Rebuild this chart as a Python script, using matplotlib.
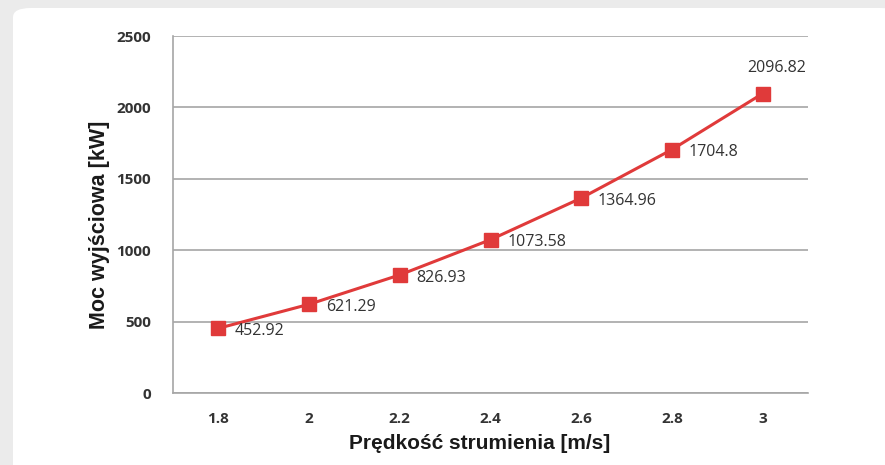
import matplotlib
matplotlib.use("Agg")
import matplotlib.pyplot as plt
from matplotlib.patches import FancyBboxPatch

categories = ["1.8", "2", "2.2", "2.4", "2.6", "2.8", "3"]
values = [452.92, 621.29, 826.93, 1073.58, 1364.96, 1704.8, 2096.82]
labels = ["452.92", "621.29", "826.93", "1073.58", "1364.96", "1704.8", "2096.82"]
yticks = [0, 500, 1000, 1500, 2000, 2500]

label_font = ['Liberation Sans', 'DejaVu Sans']
plt.rcParams['font.family'] = ['Open Sans', 'DejaVu Sans']

fig = plt.figure(figsize=(8.85, 4.65), dpi=100)
fig.patch.set_facecolor('#ebebeb')
W, H = 885, 465
panel = FancyBboxPatch((13 / W, -0.1), 1.0, 1.1 - 8 / H,
                       boxstyle="round,pad=0,rounding_size=0.02",
                       transform=fig.transFigure, facecolor='white',
                       edgecolor='none', zorder=-10)
fig.patches.append(panel)

ax = fig.add_axes([173 / W, 1 - 393 / H, (808 - 173) / W, (393 - 36) / H])
ax.set_facecolor('none')
x = list(range(len(categories)))
color = '#e03a3a'
ax.plot(x, values, color=color, lw=2.2, marker='s', markersize=10,
        markerfacecolor=color, markeredgecolor=color, zorder=3, clip_on=False)

for i, (v, lab) in enumerate(zip(values, labels)):
    if i == len(values) - 1:
        ax.annotate(lab, (i, v), xytext=(10, 13), textcoords='offset points',
                    ha='center', va='bottom', fontsize=11.5, color='#333333')
    else:
        ax.annotate(lab, (i, v), xytext=(12, -2), textcoords='offset points',
                    ha='left', va='center', fontsize=11.5, color='#333333')

ax.set_xlim(-0.5, len(categories) - 0.5)
ax.set_ylim(0, 2500)
ax.set_yticks(yticks)
ax.set_yticklabels([str(t) for t in yticks], fontsize=11, color='#333333', fontweight='bold')
ax.set_xticks(x)
ax.set_xticklabels(categories, fontsize=11, color='#333333', fontweight='bold')
ax.tick_params(axis='y', length=0, pad=16)
ax.tick_params(axis='x', length=0, pad=14)
ax.yaxis.grid(True, color='#a6a6a6', lw=1.2)
ax.set_axisbelow(True)
for s in ['top', 'right']:
    ax.spines[s].set_visible(False)
ax.spines['left'].set_color('#a6a6a6')
ax.spines['bottom'].set_color('#a6a6a6')
ax.spines['left'].set_linewidth(1.2)
ax.spines['bottom'].set_linewidth(1.2)

fig.text(100 / W, 1 - 225 / H, "Moc wyjściowa [kW]", rotation=90, ha='center', va='center',
         fontsize=15.5, fontweight='bold', color='#1a1a1a', family=label_font)
fig.text(480 / W, 1 - 443 / H, "Prędkość strumienia [m/s]", ha='center', va='center',
         fontsize=15, fontweight='bold', color='#1a1a1a', family=label_font)

fig.savefig("out.png", dpi=100)
